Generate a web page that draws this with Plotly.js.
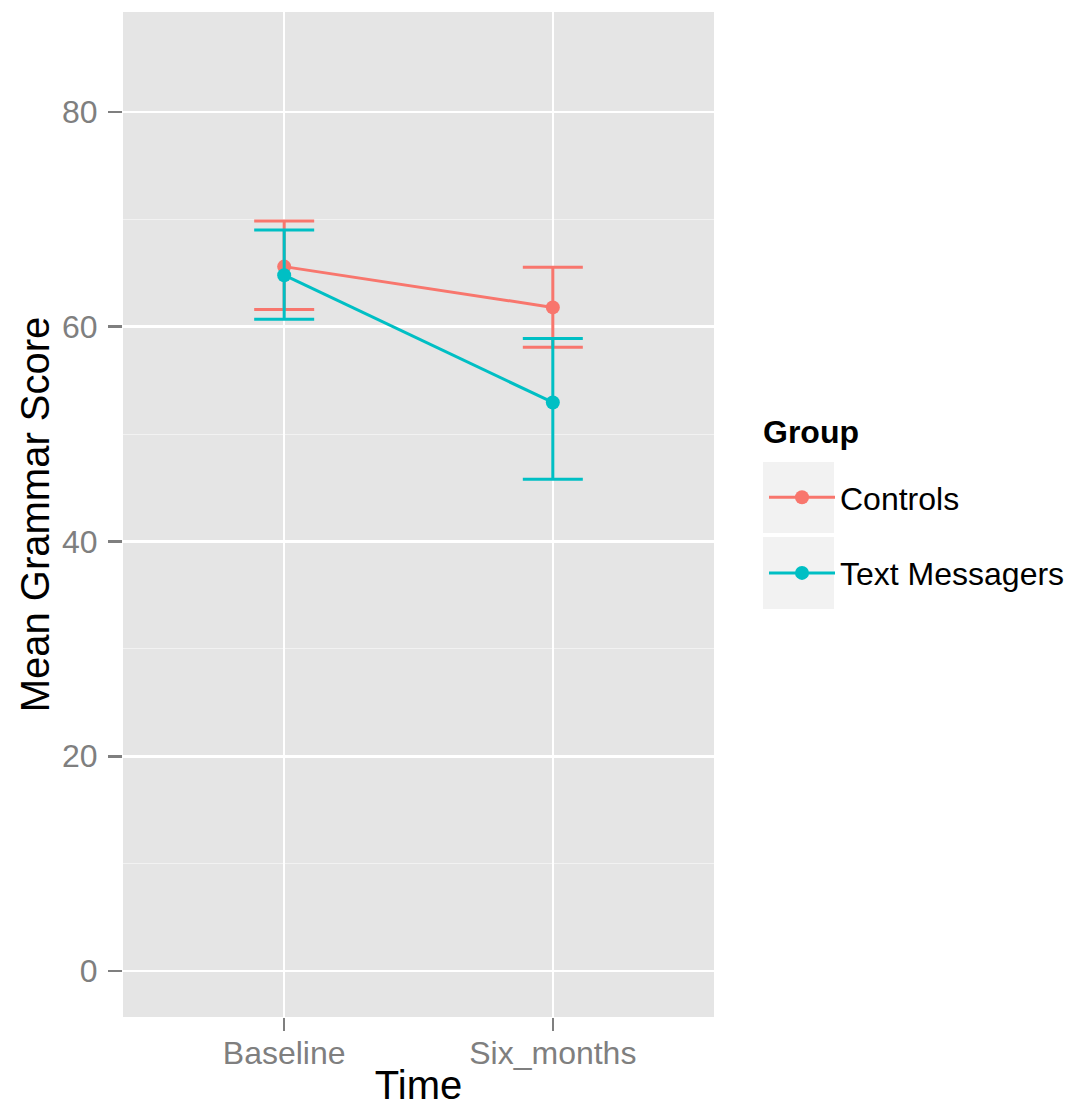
<!DOCTYPE html>
<html>
<head>
<meta charset="utf-8">
<script src="https://cdn.plot.ly/plotly-3.0.1.min.js"></script>
<style>
  html, body { margin: 0; padding: 0; background: #ffffff; }
  #chart { width: 1077px; height: 1107px; }
</style>
</head>
<body>
<div id="chart"></div>
<script>
// Data
const timePoints = ['Baseline', 'Six_months'];
const groupNames = ['Controls', 'Text Messagers'];
const legendTitle = 'Group';
const controlsMean  = [65.6, 61.8];
const controlsUpper = [69.85, 65.55];
const controlsLower = [61.6, 58.1];
const textMean  = [64.8, 52.95];
const textUpper = [69.0, 58.9];
const textLower = [60.7, 45.8];
const yTickVals = [0, 20, 40, 60, 80];
const yTickText = ['0', '20', '40', '60', '80'];

const colors = ['#F8766D', '#00BFC4'];
const FONT = '"Liberation Sans", Arial, Helvetica, sans-serif';

function makeTrace(name, mean, upper, lower, color, grp) {
  return {
    type: 'scatter',
    mode: 'lines+markers',
    name: name,
    legendgroup: grp,
    x: timePoints,
    y: mean,
    line: { color: color, width: 3 },
    marker: { color: color, size: 14 },
    error_y: {
      type: 'data',
      symmetric: false,
      array: upper.map((u, i) => u - mean[i]),
      arrayminus: lower.map((l, i) => mean[i] - l),
      color: color,
      thickness: 3,
      width: 30
    }
  };
}

const data = [
  makeTrace(groupNames[0], controlsMean, controlsUpper, controlsLower, colors[0], 'g1'),
  makeTrace(groupNames[1], textMean, textUpper, textLower, colors[1], 'g2')
];

const W = 591, H = 1005, L = 123, T = 12;
function px(x) { return (x - L) / W; }
function py(y) { return (T + H - y) / H; }

const layout = {
  width: 1077,
  height: 1107,
  margin: { l: 123, r: 363, t: 12, b: 90, autoexpand: false },
  paper_bgcolor: '#ffffff',
  plot_bgcolor: '#E5E5E5',
  font: { family: FONT, color: '#000000' },
  showlegend: true,
  xaxis: {
    type: 'category',
    range: [-0.6, 1.6],
    showgrid: true,
    gridcolor: '#ffffff',
    gridwidth: 2.5,
    zeroline: false,
    showline: false,
    ticks: 'outside',
    ticklen: 13,
    tickwidth: 2.5,
    tickcolor: '#7F7F7F',
    ticklabelstandoff: -5,
    tickfont: { family: FONT, size: 32, color: '#7F7F7F' },
    title: { text: 'Time', font: { family: FONT, size: 40, color: '#000000' }, standoff: 10 },
    automargin: false,
    fixedrange: true
  },
  yaxis: {
    range: [-4.28, 89.31],
    tickvals: yTickVals,
    ticktext: yTickText,
    showgrid: true,
    gridcolor: '#ffffff',
    gridwidth: 2.5,
    minor: { dtick: 10, tick0: 0, showgrid: true, gridcolor: '#F2F2F2', gridwidth: 1.2, ticks: '' },
    zeroline: false,
    showline: false,
    ticks: 'outside',
    ticklen: 14,
    tickwidth: 2.5,
    tickcolor: '#7F7F7F',
    ticklabelstandoff: 4,
    tickfont: { family: FONT, size: 32, color: '#7F7F7F' },
    title: { text: 'Mean Grammar Score', font: { family: FONT, size: 40, color: '#000000' }, standoff: 0 },
    automargin: false,
    fixedrange: true
  },
  legend: {
    x: px(764),
    xanchor: 'left',
    y: py(470),
    yanchor: 'top',
    bgcolor: 'rgba(0,0,0,0)',
    font: { family: FONT, size: 32, color: '#000000' },
    itemwidth: 66,
    tracegroupgap: 31
  },
  annotations: [
    { xref: 'paper', yref: 'paper', x: px(761), y: py(432), xanchor: 'left', yanchor: 'middle',
      text: '<b>' + legendTitle + '</b>', showarrow: false,
      font: { family: FONT, size: 32, color: '#000000' } }
  ],
  shapes: [
    { type: 'rect', xref: 'paper', yref: 'paper', x0: px(763), x1: px(834), y0: py(533), y1: py(462),
      fillcolor: '#F2F2F2', line: { width: 0 }, layer: 'below' },
    { type: 'rect', xref: 'paper', yref: 'paper', x0: px(763), x1: px(834), y0: py(609), y1: py(537),
      fillcolor: '#F2F2F2', line: { width: 0 }, layer: 'below' }
  ]
};

Plotly.newPlot('chart', data, layout, { displayModeBar: false, staticPlot: true });
</script>
</body>
</html>
